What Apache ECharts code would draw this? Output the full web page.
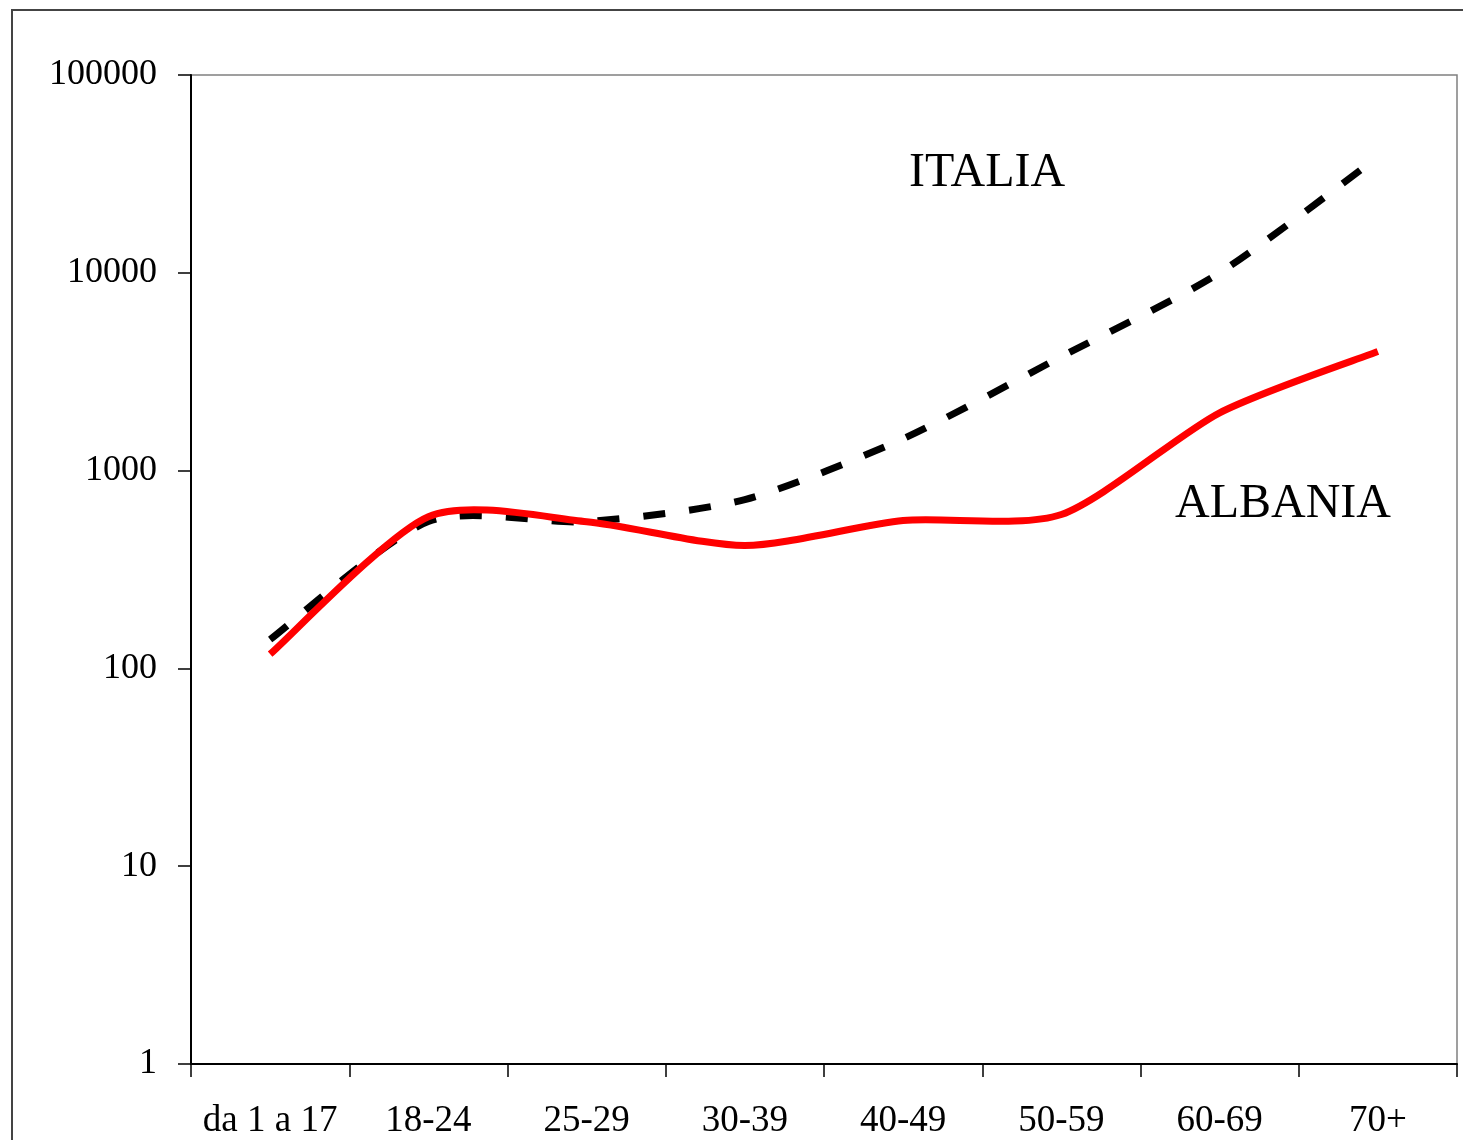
<!DOCTYPE html>
<html>
<head>
<meta charset="utf-8">
<script src="https://cdn.jsdelivr.net/npm/echarts@6/dist/echarts.min.js"></script>
<style>
html,body{margin:0;padding:0;background:#fff;}
#chart{width:1463px;height:1140px;}
</style>
</head>
<body>
<div id="chart"></div>
<script>
// ---- data ----
var categories = ['da 1 a 17', '18-24', '25-29', '30-39', '40-49', '50-59', '60-69', '70+'];
var italia = [140, 553, 552, 714, 1450, 3770, 10000, 38500];
var albania = [118, 585, 552, 418, 559, 600, 1960, 4000];
var yTicks = [1, 10, 100, 1000, 10000, 100000];
var seriesNames = ['ITALIA', 'ALBANIA'];

var FONT = "'Liberation Serif', 'Times New Roman', serif";
var chart = echarts.init(document.getElementById('chart'), null, {renderer: 'canvas'});

// Smoothed line (cardinal spline through the data points, like a spreadsheet "smoothed line"),
// positioned with the chart's own axes via api.coord.
var TENSION = 1 / 8;
function smoothRenderer(values, style) {
  return function (params, api) {
    if (params.dataIndex !== 0) return null;
    var pts = values.map(function (v, i) { return api.coord([i, v]); });
    var n = pts.length;
    var d = 'M' + pts[0][0] + ' ' + pts[0][1];
    for (var i = 0; i < n - 1; i++) {
      var p0 = pts[Math.max(i - 1, 0)], p1 = pts[i], p2 = pts[i + 1], p3 = pts[Math.min(i + 2, n - 1)];
      var c1x = p1[0] + (p2[0] - p0[0]) * TENSION, c1y = p1[1] + (p2[1] - p0[1]) * TENSION;
      var c2x = p2[0] - (p3[0] - p1[0]) * TENSION, c2y = p2[1] - (p3[1] - p1[1]) * TENSION;
      d += ' C' + c1x + ' ' + c1y + ' ' + c2x + ' ' + c2y + ' ' + p2[0] + ' ' + p2[1];
    }
    return {type: 'path', shape: {pathData: d}, style: style};
  };
}

var option = {
  backgroundColor: '#ffffff',
  animation: false,
  grid: {
    left: 191, right: 6, top: 75, bottom: 75,
    show: true, borderColor: '#808080', borderWidth: 1.5, backgroundColor: 'transparent'
  },
  xAxis: {
    type: 'category',
    data: categories,
    boundaryGap: true,
    axisLine: {show: true, lineStyle: {color: '#000', width: 2}},
    axisTick: {show: true, interval: 0, alignWithLabel: false, length: 13, lineStyle: {color: '#000', width: 1.5}},
    axisLabel: {interval: 0, margin: 39, color: '#000', fontFamily: FONT, fontSize: 37},
    splitLine: {show: false}
  },
  yAxis: {
    type: 'log',
    logBase: 10,
    min: yTicks[0],
    max: yTicks[yTicks.length - 1],
    splitNumber: yTicks.length - 1,
    axisLine: {show: true, lineStyle: {color: '#000', width: 2}},
    axisTick: {show: true, length: 13, lineStyle: {color: '#000', width: 1.5}},
    axisLabel: {margin: 34, color: '#000', fontFamily: FONT, fontSize: 36,
      formatter: function (v) { return String(Math.round(v)); }},
    splitLine: {show: false}
  },
  series: [
    {
      name: seriesNames[0],
      type: 'custom',
      coordinateSystem: 'cartesian2d',
      data: italia.map(function (v, i) { return [i, v]; }),
      encode: {x: 0, y: 1},
      renderItem: smoothRenderer(italia, {fill: 'none', stroke: '#000', lineWidth: 7, lineDash: [22, 24], lineCap: 'butt'}),
      z: 2
    },
    {
      name: seriesNames[1],
      type: 'custom',
      coordinateSystem: 'cartesian2d',
      data: albania.map(function (v, i) { return [i, v]; }),
      encode: {x: 0, y: 1},
      renderItem: smoothRenderer(albania, {fill: 'none', stroke: '#ff0000', lineWidth: 7, lineJoin: 'round'}),
      z: 3
    }
  ],
  graphic: [
    {
      type: 'rect', silent: true, z: 0,
      shape: {x: 12, y: 10, width: 1500, height: 1200},
      style: {fill: 'none', stroke: '#444', lineWidth: 2}
    },
    {
      type: 'text', left: 909, top: 149, silent: true,
      style: {text: seriesNames[0], fill: '#000', font: '48px ' + FONT}
    },
    {
      type: 'text', left: 1175, top: 480, silent: true,
      style: {text: seriesNames[1], fill: '#000', font: '48px ' + FONT}
    }
  ]
};
chart.setOption(option);
</script>
</body>
</html>
